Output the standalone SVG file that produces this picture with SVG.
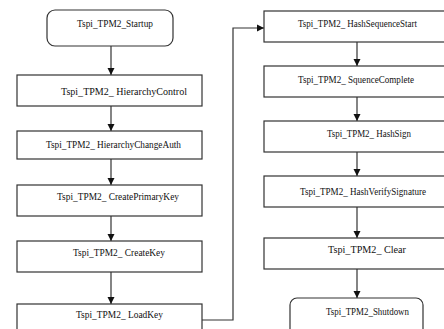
<svg xmlns="http://www.w3.org/2000/svg" width="444" height="329" viewBox="0 0 444 329">
<defs>
<marker id="ah" markerWidth="8" markerHeight="8" refX="7" refY="4" orient="auto" markerUnits="userSpaceOnUse">
<path d="M0,0.5 L7,4 L0,7.5 Z" fill="#111"/>
</marker>
<style>
.box{fill:#fff;stroke:#333;stroke-width:1.2}
.lbl{font-family:'Liberation Serif','Times New Roman',serif;font-size:10px;fill:#111}
.con{fill:none;stroke:#333;stroke-width:1.2}
</style>
</defs>
<rect width="444" height="329" fill="#fff"/>
<g id="connectors">
<line class="con" x1="111" y1="46" x2="111" y2="75" marker-end="url(#ah)"/>
<line class="con" x1="111" y1="106" x2="111" y2="131" marker-end="url(#ah)"/>
<line class="con" x1="111" y1="159" x2="111" y2="185" marker-end="url(#ah)"/>
<line class="con" x1="111" y1="216" x2="111" y2="241" marker-end="url(#ah)"/>
<line class="con" x1="111" y1="272" x2="111" y2="304" marker-end="url(#ah)"/>
<polyline class="con" points="202,320 233,320 233,28 264,28" marker-end="url(#ah)"/>
<line class="con" x1="357" y1="42" x2="357" y2="66" marker-end="url(#ah)"/>
<line class="con" x1="357" y1="97" x2="357" y2="121" marker-end="url(#ah)"/>
<line class="con" x1="357" y1="152" x2="357" y2="176" marker-end="url(#ah)"/>
<line class="con" x1="357" y1="207" x2="357" y2="238" marker-end="url(#ah)"/>
<line class="con" x1="357" y1="269" x2="357" y2="298" marker-end="url(#ah)"/>
</g>
<g id="startup"><rect class="box" x="47" y="10" width="126" height="36" rx="8"/><text class="lbl" x="77" y="27" textLength="76" lengthAdjust="spacingAndGlyphs">Tspi_TPM2_Startup</text></g>
<g id="hierarchyControl"><rect class="box" x="17" y="75" width="185" height="31"/><text class="lbl" x="61" y="95" textLength="126" lengthAdjust="spacingAndGlyphs">Tspi_TPM2_ HierarchyControl</text></g>
<g id="hierarchyChangeAuth"><rect class="box" x="17" y="131" width="185" height="28"/><text class="lbl" x="46" y="148" textLength="135" lengthAdjust="spacingAndGlyphs">Tspi_TPM2_ HierarchyChangeAuth</text></g>
<g id="createPrimaryKey"><rect class="box" x="17" y="185" width="185" height="31"/><text class="lbl" x="57" y="200" textLength="122" lengthAdjust="spacingAndGlyphs">Tspi_TPM2_ CreatePrimaryKey</text></g>
<g id="createKey"><rect class="box" x="17" y="241" width="185" height="31"/><text class="lbl" x="73" y="256" textLength="92" lengthAdjust="spacingAndGlyphs">Tspi_TPM2_ CreateKey</text></g>
<g id="loadKey"><rect class="box" x="17" y="304" width="185" height="40"/><text class="lbl" x="76" y="318" textLength="87" lengthAdjust="spacingAndGlyphs">Tspi_TPM2_ LoadKey</text></g>
<g id="hashSequenceStart"><rect class="box" x="264" y="11" width="200" height="31"/><text class="lbl" x="298" y="27" textLength="119" lengthAdjust="spacingAndGlyphs">Tspi_TPM2_ HashSequenceStart</text></g>
<g id="sequenceComplete"><rect class="box" x="264" y="66" width="200" height="31"/><text class="lbl" x="298" y="83" textLength="116" lengthAdjust="spacingAndGlyphs">Tspi_TPM2_ SquenceComplete</text></g>
<g id="hashSign"><rect class="box" x="264" y="121" width="200" height="31"/><text class="lbl" x="327" y="137" textLength="84" lengthAdjust="spacingAndGlyphs">Tspi_TPM2_ HashSign</text></g>
<g id="hashVerifySignature"><rect class="box" x="264" y="176" width="200" height="31"/><text class="lbl" x="300" y="195" textLength="126" lengthAdjust="spacingAndGlyphs">Tspi_TPM2_ HashVerifySignature</text></g>
<g id="clear"><rect class="box" x="264" y="238" width="200" height="31"/><text class="lbl" x="328" y="253" textLength="78" lengthAdjust="spacingAndGlyphs">Tspi_TPM2_ Clear</text></g>
<g id="shutdown"><rect class="box" x="290" y="298" width="133" height="45" rx="7"/><text class="lbl" x="326" y="315" textLength="83" lengthAdjust="spacingAndGlyphs">Tspi_TPM2_Shutdown</text></g>
</svg>
